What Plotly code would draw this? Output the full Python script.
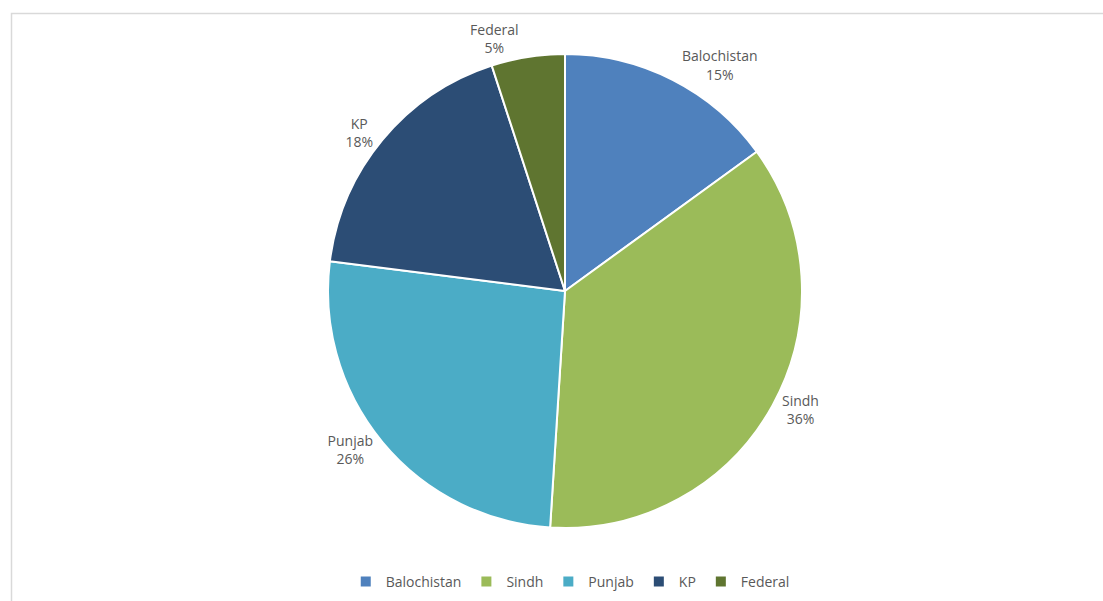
import plotly.graph_objects as go

regions = ["Balochistan", "Sindh", "Punjab", "KP", "Federal"]
shares = [15, 36, 26, 18, 5]
colors = ["#4F81BD", "#9BBB59", "#4BACC6", "#2C4D75", "#5F7530"]

W, H = 1103, 601
cx, cy, r = 565, 291, 237

fig = go.Figure(go.Pie(
    labels=regions,
    values=shares,
    sort=False,
    direction="clockwise",
    rotation=0,
    marker=dict(colors=colors, line=dict(color="white", width=2)),
    texttemplate="%{label}<br>%{percent:.0%}",
    textposition="outside",
    textfont=dict(family="Open Sans", size=14, color="#595959"),
    hoverinfo="label+percent",
    domain=dict(x=[(cx - r) / W, (cx + r) / W], y=[(H - cy - r) / H, (H - cy + r) / H]),
    automargin=False,
))

fig.update_layout(
    width=W, height=H,
    margin=dict(l=0, r=0, t=0, b=0),
    paper_bgcolor="white",
    showlegend=True,
    legend=dict(orientation="h", x=0.517, xanchor="center", y=(H - 582) / H, yanchor="middle",
                font=dict(family="Open Sans", size=14, color="#595959"),
                itemsizing="constant", itemwidth=30, traceorder="normal"),
    shapes=[dict(type="rect", xref="paper", yref="paper", x0=11.5 / W, x1=1.01, y0=-0.01, y1=(H - 13.5) / H,
                 line=dict(color="#D9D9D9", width=1.5), fillcolor="rgba(0,0,0,0)", layer="below")],
)

fig.write_html("out.html")
